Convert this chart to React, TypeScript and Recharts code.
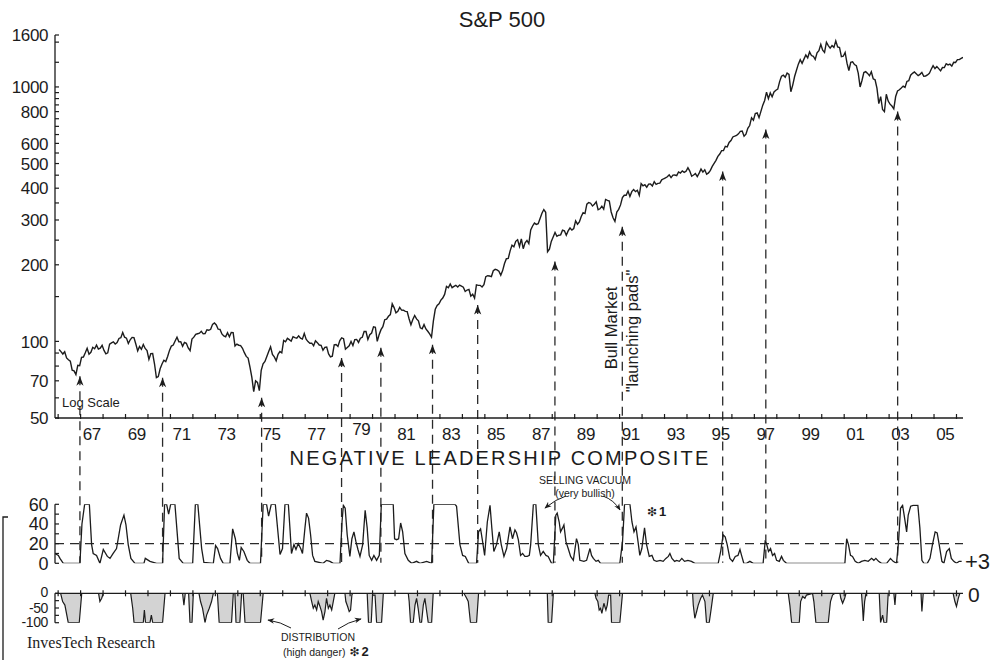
import React from 'react';
import { ComposedChart, Line, Area, Scatter, XAxis, YAxis, ReferenceLine } from 'recharts';

const W = 1006;
const H = 660;
const PLOT_RIGHT = 963;
const X_DOMAIN: [number, number] = [1965.86, 2006.29];
const FONT = "'Liberation Sans', Arial, Helvetica, sans-serif";
const INK = '#1c1c1c';

// S&P 500 monthly levels, Jan 1966 .. Apr 2006
const spx1966 = [
  92.9, 91.2, 89.2, 91.1, 86.1, 84.7, 83.6, 77.1, 76.6, 74.0, 80.5, 80.3,
  86.6, 86.8, 90.2, 94.0, 89.1, 90.6, 94.8, 93.6, 96.7, 93.3, 94.0, 96.5,
  92.2, 89.4, 90.2, 97.5, 98.7, 99.6, 97.7, 98.9, 102.7, 103.4, 108.4, 103.9,
  103.0, 98.1, 101.5, 103.7, 103.5, 97.7, 91.8, 95.5, 93.1, 97.2, 93.8, 92.1,
  85.0, 89.5, 89.6, 81.5, 72.0, 72.7, 78.1, 81.5, 84.3, 83.3, 87.2, 92.2,
  95.9, 96.8, 100.3, 103.9, 99.6, 99.7, 95.6, 99.0, 98.3, 94.2, 92.0, 102.1,
  103.9, 106.6, 107.2, 107.7, 109.5, 107.1, 107.4, 111.1, 110.6, 111.6, 116.7, 118.1,
  116.0, 111.7, 111.5, 107.0, 105.0, 104.3, 108.2, 104.3, 108.4, 108.3, 96.0, 97.6,
  96.6, 96.2, 94.0, 90.3, 87.3, 86.0, 79.3, 72.2, 63.5, 70.0, 69.0, 64.0,
  77.0, 81.6, 83.4, 87.3, 91.2, 95.2, 88.8, 86.9, 83.9, 89.0, 91.2, 90.2,
];
const spx1976 = [
  100.9, 99.7, 102.8, 101.6, 100.2, 104.3, 103.4, 102.9, 105.2, 102.9, 102.1, 107.5,
  102.0, 99.8, 98.4, 98.4, 96.1, 100.5, 98.9, 96.8, 96.5, 92.3, 94.8, 95.1,
  89.3, 87.0, 87.5, 97.0, 97.2, 95.5, 100.7, 103.3, 102.5, 93.2, 94.7, 96.1,
  99.9, 96.3, 101.6, 101.8, 99.1, 102.9, 103.8, 109.3, 109.3, 101.8, 106.2, 107.9,
  114.2, 113.7, 100.0, 106.3, 111.2, 114.2, 121.7, 122.4, 125.5, 127.5, 140.5, 135.8,
  129.6, 131.3, 136.0, 132.8, 132.6, 131.2, 130.9, 122.8, 116.2, 121.9, 126.4, 122.6,
  120.4, 113.1, 112.0, 116.4, 111.9, 109.6, 107.1, 104.0, 120.4, 133.7, 138.5, 140.6,
  145.3, 148.1, 153.0, 164.4, 162.4, 168.1, 162.6, 164.4, 166.1, 163.6, 166.4, 164.9,
  163.4, 157.1, 159.2, 160.1, 150.6, 153.2, 148.0, 166.7, 166.1, 166.1, 163.6, 167.2,
  179.6, 181.2, 180.7, 179.8, 189.6, 191.9, 190.9, 188.6, 182.1, 189.8, 202.2, 211.3,
];
const spx1986 = [
  211.8, 226.9, 238.9, 235.5, 247.4, 250.8, 236.1, 252.9, 231.3, 244.0, 249.2, 242.2,
  274.1, 284.2, 291.7, 288.4, 290.1, 304.0, 318.7, 329.8, 321.8, 225.0, 230.3, 247.1,
  257.1, 267.8, 258.9, 261.3, 262.2, 273.5, 272.0, 261.5, 271.9, 279.0, 273.7, 277.7,
  297.5, 288.9, 294.9, 309.6, 320.5, 318.0, 346.1, 351.5, 349.2, 340.4, 346.0, 353.4,
  329.1, 331.9, 339.9, 330.8, 361.2, 358.0, 356.2, 322.6, 306.1, 296.0, 322.2, 330.2,
  343.9, 367.1, 375.2, 375.4, 389.8, 371.2, 387.8, 395.4, 387.9, 392.5, 375.2, 417.1,
  408.8, 412.7, 403.7, 415.0, 415.4, 408.1, 424.2, 414.0, 417.8, 418.7, 431.4, 435.7,
  438.8, 443.4, 451.7, 440.2, 450.2, 450.5, 448.1, 463.6, 458.9, 467.8, 461.8, 466.5,
  481.6, 467.1, 445.8, 450.9, 456.5, 444.3, 458.3, 475.5, 462.7, 472.4, 453.7, 459.3,
  470.4, 487.4, 500.7, 514.7, 533.4, 544.8, 562.1, 561.9, 584.4, 581.5, 605.4, 615.9,
];
const spx1996 = [
  636.0, 640.4, 645.5, 654.2, 669.1, 670.6, 640.0, 652.0, 687.3, 705.3, 757.0, 740.7,
  786.2, 790.8, 757.1, 801.3, 848.3, 885.1, 954.3, 899.5, 947.3, 914.6, 955.4, 970.4,
  980.3, 1049.3, 1101.8, 1111.8, 1090.8, 1133.8, 1120.7, 957.3, 1017.0, 1098.7, 1163.6, 1229.2,
  1279.6, 1238.3, 1286.4, 1335.2, 1301.8, 1372.7, 1328.7, 1320.4, 1282.7, 1362.9, 1389.0, 1469.3,
  1394.5, 1366.4, 1498.6, 1452.4, 1420.6, 1454.6, 1430.8, 1517.7, 1436.5, 1429.4, 1315.2, 1320.3,
  1366.0, 1239.9, 1160.3, 1249.5, 1255.8, 1224.4, 1211.2, 1133.6, 1000.0, 1059.8, 1139.5, 1148.1,
  1130.2, 1106.7, 1147.4, 1076.9, 1067.1, 989.8, 860.0, 916.1, 815.3, 800.0, 936.3, 879.8,
  855.7, 841.2, 820.0, 916.9, 963.6, 974.5, 990.3, 1008.0, 996.0, 1050.7, 1058.2, 1111.9,
  1131.1, 1144.9, 1126.2, 1107.3, 1120.7, 1140.8, 1101.7, 1104.2, 1114.6, 1130.2, 1173.8, 1211.9,
  1181.3, 1203.6, 1180.6, 1156.9, 1191.5, 1191.3, 1234.2, 1220.3, 1228.8, 1207.0, 1249.5, 1248.3,
  1280.1, 1280.7, 1294.8, 1307.0,
];

// Negative Leadership Composite: selling vacuum reading [year, value]
const vacuum: [number, number][] = [
  [1965.86, 10], [1966.01, 8], [1966.08, 5], [1966.23, 0], [1966.97, 0], [1967.06, 40], [1967.18, 60],
  [1967.39, 60], [1967.49, 19], [1967.56, 10], [1967.71, 8], [1967.86, 0], [1968.01, 14], [1968.19, 7],
  [1968.31, 5], [1968.45, 10], [1968.6, 15], [1968.78, 39], [1968.93, 49], [1969.02, 39], [1969.12, 19],
  [1969.24, 5], [1969.42, 0], [1969.82, 0], [1969.88, 5], [1970.09, 2], [1970.38, 0], [1970.65, 0],
  [1970.74, 60], [1970.83, 60], [1970.92, 50], [1971.01, 60], [1971.2, 60], [1971.39, 5], [1971.57, 0],
  [1971.99, 0], [1972.11, 60], [1972.22, 60], [1972.39, 15], [1972.49, 1], [1972.91, 0], [1973.01, 18],
  [1973.1, 15], [1973.23, 5], [1973.35, 0], [1973.65, 0], [1973.77, 35], [1973.89, 25], [1973.98, 10],
  [1974.07, 3], [1974.15, 16], [1974.27, 12], [1974.42, 3], [1974.54, 0], [1975.01, 0], [1975.13, 60],
  [1975.28, 60], [1975.37, 48], [1975.49, 60], [1975.67, 60], [1975.88, 9], [1975.99, 15], [1976.1, 60],
  [1976.25, 60], [1976.32, 36], [1976.39, 10], [1976.5, 19], [1976.59, 14], [1976.69, 20], [1976.8, 15],
  [1976.88, 10], [1976.99, 36], [1977.06, 51], [1977.15, 46], [1977.24, 29], [1977.33, 8], [1977.43, 2],
  [1977.8, 0], [1977.95, 3], [1978.1, 2], [1978.25, 0], [1978.55, 0], [1978.64, 42], [1978.7, 59],
  [1978.78, 56], [1978.87, 29], [1978.99, 7], [1979.08, 25], [1979.17, 32], [1979.26, 22], [1979.35, 14],
  [1979.44, 7], [1979.56, 19], [1979.67, 54], [1979.76, 36], [1979.85, 8], [1979.96, 3], [1980.06, 8],
  [1980.18, 3], [1980.3, 8], [1980.39, 60], [1980.92, 60], [1980.98, 25], [1981.07, 24], [1981.16, 25],
  [1981.25, 41], [1981.34, 32], [1981.44, 10], [1981.59, 3], [1981.74, 0], [1981.96, 2], [1982.11, 0],
  [1982.41, 2], [1982.63, 0], [1982.73, 60], [1983.67, 60], [1983.74, 58], [1983.89, 19], [1984.01, 8],
  [1984.13, 7], [1984.28, 0], [1984.63, 0], [1984.72, 32], [1984.81, 35], [1984.9, 22], [1984.99, 8],
  [1985.11, 42], [1985.23, 59], [1985.31, 36], [1985.4, 12], [1985.52, 19], [1985.64, 32], [1985.73, 19],
  [1985.85, 7], [1985.97, 15], [1986.12, 37], [1986.23, 25], [1986.34, 34], [1986.41, 31], [1986.49, 24],
  [1986.59, 8], [1986.68, 10], [1986.78, 7], [1986.89, 7], [1986.98, 8], [1987.04, 19], [1987.16, 60],
  [1987.27, 60], [1987.38, 19], [1987.48, 8], [1987.6, 12], [1987.72, 8], [1987.82, 7], [1987.97, 0],
  [1988.05, 0], [1988.16, 49], [1988.22, 51], [1988.31, 42], [1988.37, 32], [1988.46, 36], [1988.52, 39],
  [1988.61, 22], [1988.71, 15], [1988.82, 7], [1988.94, 3], [1989.08, 25], [1989.16, 19], [1989.23, 3],
  [1989.41, 2], [1989.53, 3], [1989.68, 15], [1989.75, 8], [1989.83, 5], [1989.95, 2], [1990.05, 3],
  [1990.15, 0], [1991.01, 0], [1991.13, 22], [1991.22, 60], [1991.46, 60], [1991.55, 42], [1991.64, 32],
  [1991.73, 37], [1991.82, 22], [1991.9, 8], [1991.99, 15], [1992.11, 36], [1992.2, 19], [1992.32, 7],
  [1992.44, 8], [1992.53, 3], [1992.65, 2], [1992.8, 3], [1992.94, 2], [1993.06, 5], [1993.17, 7],
  [1993.24, 10], [1993.33, 5], [1993.45, 2], [1993.54, 3], [1993.66, 2], [1993.77, 5], [1993.89, 2],
  [1994.04, 3], [1994.2, 2], [1994.35, 0], [1995.39, 0], [1995.5, 12], [1995.61, 29], [1995.7, 27],
  [1995.79, 19], [1995.91, 5], [1996.03, 2], [1996.15, 7], [1996.27, 8], [1996.36, 14], [1996.43, 8],
  [1996.53, 0], [1996.65, 0], [1996.8, 2], [1996.95, 0], [1997.39, 0], [1997.48, 22], [1997.54, 20],
  [1997.63, 12], [1997.72, 15], [1997.81, 8], [1997.9, 10], [1997.99, 3], [1998.11, 2], [1998.21, 7],
  [1998.29, 3], [1998.43, 0], [2001.03, 0], [2001.11, 25], [2001.19, 19], [2001.28, 8], [2001.37, 7],
  [2001.49, 2], [2001.63, 0], [2001.77, 2], [2001.92, 3], [2002.07, 2], [2002.22, 5], [2002.32, 3],
  [2002.41, 5], [2002.53, 2], [2002.66, 0], [2002.89, 0], [2003.06, 5], [2003.18, 2], [2003.33, 0],
  [2003.42, 22], [2003.51, 56], [2003.6, 59], [2003.69, 46], [2003.78, 32], [2003.85, 49], [2003.96, 58],
  [2004.07, 59], [2004.28, 59], [2004.37, 36], [2004.46, 3], [2004.55, 0], [2004.7, 0], [2004.82, 5],
  [2004.93, 19], [2005.05, 32], [2005.14, 31], [2005.23, 19], [2005.35, 2], [2005.44, 0], [2005.56, 12],
  [2005.68, 15], [2005.77, 5], [2005.88, 2], [2006.0, 0], [2006.12, 2], [2006.23, 2],
];

// Negative Leadership Composite: distribution reading [year, value]
const distribution: [number, number][] = [
  [1965.86, 0], [1966.11, 0], [1966.2, -28], [1966.3, -40], [1966.45, -100], [1966.94, -100], [1967.05, 0],
  [1967.8, 0], [1967.86, -28], [1967.94, -17], [1968.01, 0], [1969.23, 0], [1969.32, -51], [1969.38, -100],
  [1969.79, -100], [1969.84, -57], [1969.89, -100], [1970.09, -100], [1970.15, -74], [1970.21, -100],
  [1970.65, -100], [1970.76, 0], [1971.54, 0], [1971.6, -40], [1971.66, 0], [1971.81, 0], [1971.87, -100],
  [1971.96, -100], [1972.02, 0], [1972.27, 0], [1972.34, -28], [1972.43, -51], [1972.54, -100],
  [1972.61, -74], [1972.73, -51], [1972.83, -28], [1972.91, 0], [1973.09, 0], [1973.17, -100],
  [1973.72, -100], [1973.8, 0], [1973.87, 0], [1973.92, -100], [1974.09, -100], [1974.17, 0], [1974.24, 0],
  [1974.32, -100], [1975.01, -100], [1975.13, 0], [1977.21, 0], [1977.29, -28], [1977.36, -51],
  [1977.43, -40], [1977.51, -57], [1977.58, -28], [1977.66, -45], [1977.73, -62], [1977.8, -91],
  [1977.88, -62], [1977.95, -17], [1978.03, -51], [1978.1, -40], [1978.18, -57], [1978.25, -28],
  [1978.32, 0], [1978.77, 0], [1978.81, -28], [1978.89, -45], [1978.96, -62], [1979.02, -57], [1979.08, -6],
  [1979.11, 0], [1979.76, 0], [1979.82, -100], [1979.94, -100], [1980.0, -6], [1980.11, -6], [1980.18, -100],
  [1980.4, -100], [1980.48, 0], [1981.59, 0], [1981.63, -28], [1981.69, -100], [1981.81, -100],
  [1981.89, -40], [1981.96, -17], [1982.03, -51], [1982.11, -100], [1982.18, -100], [1982.26, -40],
  [1982.33, -17], [1982.41, -62], [1982.48, -100], [1982.63, -100], [1982.7, 0], [1984.07, 0],
  [1984.11, -6], [1984.19, -17], [1984.26, -28], [1984.36, -100], [1984.63, -100], [1984.72, 0],
  [1987.78, 0], [1987.82, -100], [1987.97, -100], [1988.05, 0], [1989.9, 0], [1989.95, -17], [1990.03, -28],
  [1990.09, -57], [1990.15, -51], [1990.21, -68], [1990.3, -34], [1990.39, -57], [1990.45, -40],
  [1990.51, -6], [1990.6, -6], [1990.64, -100], [1991.01, -100], [1991.13, 0], [1994.25, 0], [1994.28, -40],
  [1994.35, -85], [1994.43, -62], [1994.5, -40], [1994.61, -17], [1994.69, -6], [1994.8, -28],
  [1994.87, -100], [1994.99, -100], [1995.08, -51], [1995.17, 0], [1998.51, 0], [1998.58, -40],
  [1998.66, -100], [1999.0, -100], [1999.06, -28], [1999.15, -11], [1999.25, -17], [1999.32, -6],
  [1999.59, 0], [1999.65, -28], [1999.74, -100], [2000.29, -100], [2000.39, -28], [2000.48, -6],
  [2000.59, 0], [2000.81, 0], [2000.85, -17], [2000.93, -34], [2001.02, -17], [2001.08, 0], [2001.77, 0],
  [2001.82, -51], [2001.85, -94], [2001.91, -28], [2001.97, 0], [2002.56, 0], [2002.62, -100],
  [2002.71, -74], [2002.77, -100], [2002.89, -100], [2002.96, 0], [2003.21, 0], [2003.26, -40],
  [2003.3, 0], [2004.42, 0], [2004.46, -62], [2004.52, 0], [2005.85, 0], [2005.93, -28], [2006.0, -45],
  [2006.08, -17], [2006.15, 0], [2006.29, 0],
];

// "launching pad" signals: date and where the arrow tip sits on the S&P scale
const signalYears = [1966.97, 1970.65, 1975.06, 1978.62, 1980.37, 1982.67, 1984.68, 1988.12, 1991.12, 1995.59, 1997.51, 2003.38];
const signalLevels = [73, 72, 60, 86, 94.5, 97, 139, 206, 282, 465, 680, 800];

const spxTicks = [50, 60, 70, 80, 90, 100, 150, 200, 250, 300, 350, 400, 450, 500, 550, 600, 650, 700, 750, 800, 850, 900, 950, 1000, 1250, 1500, 1600];
const spxLabels = [50, 70, 100, 200, 300, 400, 500, 600, 800, 1000, 1600];
const vacuumTicks = [0, 10, 20, 30, 40, 50, 60];
const vacuumLabels = [0, 20, 40, 60];
const distTicks = [-100, -75, -50, -25, 0];
const distLabels = [0, -50, -100];
const yearTicks = Array.from({ length: 41 }, (_, i) => 1966 + i);

const spxData = [...spx1966, ...spx1976, ...spx1986, ...spx1996].map((v, i) => ({ t: 1966 + (i + 0.5) / 12, v }));
const vacuumData = vacuum.map(([t, v]) => ({ t, v }));
const distData = distribution.map(([t, v]) => ({ t, v }));
const signalData = signalYears.map((t, i) => ({ t, v: signalLevels[i] }));

// dashed stems run down to the zero line of the composite panel (below the log axis)
const STEM_END = 13.5;
const HALF_YEAR_PX = 11.23;

const leftTick = (labels: number[], size = 17, nudge: Record<number, number> = {}) => (p: any) => {
  const v = p.payload.value;
  const shown = labels.includes(v);
  return (
    <g>
      <line x1={p.x} x2={p.x + 4} y1={p.y} y2={p.y} stroke={INK} strokeWidth={1.2} />
      {shown && (
        <text x={p.x - 7} y={p.y + (nudge[v] || 0)} dy="0.36em" textAnchor="end" fontSize={size} fontFamily={FONT} fill={INK} letterSpacing={-0.4}>
          {v}
        </text>
      )}
    </g>
  );
};

const yearTick = (p: any) => {
  const yr = p.payload.value;
  const label = yr % 2 === 1 ? String(yr % 100).padStart(2, '0') : null;
  return (
    <g>
      <line x1={p.x} x2={p.x} y1={p.y - 4} y2={p.y + 1} stroke={INK} strokeWidth={1.2} />
      {label && (
        <text x={p.x + HALF_YEAR_PX} y={p.y + (yr === 1979 ? 17 : 22)} textAnchor="middle" fontSize={17} fontFamily={FONT} fill={INK} letterSpacing={-0.4}>
          {label}
        </text>
      )}
    </g>
  );
};

const zeroLineTick = (p: any) => (
  <line x1={p.x} x2={p.x} y1={p.y - 3} y2={p.y + 3} stroke={INK} strokeWidth={1.2} />
);

const arrowHead = (p: any) => (
  <path d={`M${p.cx},${p.cy} l3.6,9.5 l-3.6,-2.6 l-3.6,2.6 z`} fill={INK} />
);

const layer: React.CSSProperties = { position: 'absolute', left: 0, top: 0 };

const App: React.FC = () => {
  return (
    <div style={{ position: 'absolute', left: 0, top: 0, width: W, height: H, background: '#fff', fontFamily: FONT }}>
      <div style={layer}>
        <ComposedChart width={W} height={H} margin={{ top: 35, right: W - PLOT_RIGHT, bottom: H - 418 - 30, left: 0 }}>
          <XAxis
            type="number" dataKey="t" domain={X_DOMAIN} allowDataOverflow ticks={yearTicks} interval={0}
            height={30} tickSize={0} tickMargin={0} tickLine={false}
            axisLine={{ stroke: INK, strokeWidth: 1.3 }} tick={yearTick}
          />
          <YAxis
            type="number" scale="log" domain={[50, 1600]} allowDataOverflow ticks={spxTicks} interval={0}
            width={55} tickSize={0} tickMargin={0} tickLine={false}
            axisLine={{ stroke: INK, strokeWidth: 1.3 }} tick={leftTick(spxLabels)}
          />
          {signalYears.map((t, i) => (
            <ReferenceLine
              key={t}
              segment={[{ x: t, y: signalLevels[i] }, { x: t, y: STEM_END }]}
              ifOverflow="visible"
              stroke="#2a2a2a"
              strokeWidth={1.3}
              strokeDasharray="9 6"
            />
          ))}
          <Line data={spxData} dataKey="v" type="linear" dot={false} stroke={INK} strokeWidth={1.4} isAnimationActive={false} />
          <Scatter data={signalData} dataKey="v" shape={arrowHead} isAnimationActive={false} />
        </ComposedChart>
      </div>

      <div style={layer}>
        <ComposedChart width={W} height={H} margin={{ top: 504.3, right: W - PLOT_RIGHT, bottom: H - 563.3, left: 0 }}>
          <XAxis type="number" dataKey="t" domain={X_DOMAIN} allowDataOverflow hide />
          <YAxis
            type="number" domain={[0, 60]} allowDataOverflow ticks={vacuumTicks} interval={0}
            width={55} tickSize={0} tickMargin={0} tickLine={false}
            axisLine={{ stroke: INK, strokeWidth: 1.3 }} tick={leftTick(vacuumLabels, 18)}
          />
          <ReferenceLine y={20} stroke="#2a2a2a" strokeWidth={1.3} strokeDasharray="9 6" />
          <Line data={vacuumData} dataKey="v" type="linear" dot={false} stroke={INK} strokeWidth={1.3} isAnimationActive={false} />
        </ComposedChart>
      </div>

      <div style={layer}>
        <ComposedChart width={W} height={H} margin={{ top: 591.3, right: W - PLOT_RIGHT, bottom: H - 622.7, left: 0 }}>
          <XAxis
            type="number" dataKey="t" orientation="top" domain={X_DOMAIN} allowDataOverflow ticks={yearTicks} interval={0}
            height={2} tickSize={0} tickMargin={0} tickLine={false}
            axisLine={{ stroke: INK, strokeWidth: 1.3 }} tick={zeroLineTick}
          />
          <YAxis
            type="number" domain={[-100, 0]} allowDataOverflow ticks={distTicks} interval={0}
            width={55} tickSize={0} tickMargin={0} tickLine={false}
            axisLine={{ stroke: INK, strokeWidth: 1.3 }} tick={leftTick(distLabels, 14, { 0: -1.5, [-100]: -0.5 })}
          />
          <Area
            data={distData} dataKey="v" type="linear" baseValue={0} fill="#d3d3d3" fillOpacity={1}
            stroke={INK} strokeWidth={1.2} dot={false} activeDot={false} isAnimationActive={false}
          />
        </ComposedChart>
      </div>

      <svg width={W} height={H} style={{ ...layer, pointerEvents: 'none' }}>
        <defs>
          <marker id="tip" viewBox="0 0 10 10" refX="9" refY="5" markerWidth="7" markerHeight="7" orient="auto">
            <path d="M0,1 L10,5 L0,9 L3,5 z" fill={INK} />
          </marker>
        </defs>
        <g fontFamily={FONT} fill={INK}>
          <text x={502} y={27} fontSize={22} textAnchor="middle">S&amp;P 500</text>
          <text x={62} y={407} fontSize={13}>Log Scale</text>
          <text x={500} y={465} fontSize={20} textAnchor="middle" letterSpacing={2.2}>NEGATIVE LEADERSHIP COMPOSITE</text>
          <text transform="rotate(-90 617 328)" x={617} y={328} fontSize={16.5} textAnchor="middle">Bull Market</text>
          <text transform="rotate(-90 638 331)" x={638} y={331} fontSize={16.5} textAnchor="middle">"launching pads"</text>
          <text x={585} y={484} fontSize={10.5} textAnchor="middle">SELLING VACUUM</text>
          <text x={585} y={497} fontSize={10.5} textAnchor="middle">(very bullish)</text>
          <text x={647} y={516} fontSize={13}>
            <tspan fontFamily="'DejaVu Sans', sans-serif" fontSize={12}>❇</tspan>
            <tspan dx={2} fontWeight="bold">1</tspan>
          </text>
          <text x={318} y={641} fontSize={10.5} textAnchor="middle">DISTRIBUTION</text>
          <text x={283} y={656} fontSize={10.5}>
            (high danger)
            <tspan dx={4} fontFamily="'DejaVu Sans', sans-serif" fontSize={12}>❇</tspan>
            <tspan dx={2} fontSize={13} fontWeight="bold">2</tspan>
          </text>
          <text x={27} y={648} fontSize={16} fontFamily="'Liberation Serif', 'Times New Roman', serif">InvesTech Research</text>
          <text x={965} y={569} fontSize={22}>+3</text>
          <text x={968} y={602} fontSize={21}>0</text>
        </g>
        <g fill="none" stroke={INK} strokeWidth={1}>
          <path d="M566,496 Q556,499 545,508" markerEnd="url(#tip)" />
          <path d="M603,496 Q614,500 620,510" markerEnd="url(#tip)" />
          <path d="M291,628 Q281,622 268,620" markerEnd="url(#tip)" />
          <path d="M338,629 Q348,622 361,619" markerEnd="url(#tip)" />
          <path d="M8,517 L3,517 L3,660" strokeWidth={1.3} />
        </g>
      </svg>
    </div>
  );
};

export default App;
